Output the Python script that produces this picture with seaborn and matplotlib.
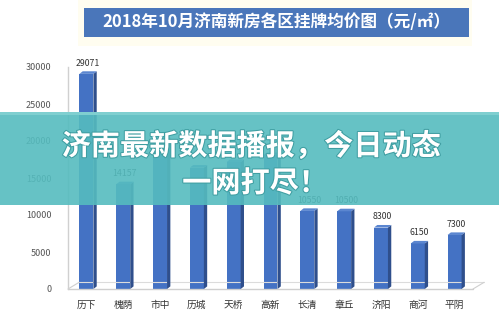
import matplotlib
matplotlib.use("Agg")
import matplotlib.pyplot as plt
import matplotlib.patheffects as pe
from matplotlib.patches import Rectangle, Polygon
import seaborn as sns
import pandas as pd

# 2018年10月 济南新房各区挂牌均价（元/㎡）
districts = ["历下", "槐荫", "市中", "历城", "天桥", "高新", "长清", "章丘", "济阳", "商河", "平阴"]
prices = [29071, 14157, 20100, 16400, 17163, 18100, 10550, 10500, 8300, 6150, 7300]
shown_labels = [True, True, False, False, False, False, True, True, True, True, True]
y_ticks = [0, 5000, 10000, 15000, 20000, 25000, 30000]

sns.set_theme(style="white")
plt.rcParams["font.family"] = ["Noto Sans CJK SC", "DejaVu Sans"]

W, H = 499, 323
fig = plt.figure(figsize=(W / 100, H / 100), dpi=100)
fig.patch.set_facecolor("white")

def fx(px):
    return px / W

def fy(py):
    return (H - py) / H

ax = fig.add_axes([fx(68), fy(289), fx(473) - fx(68), fy(67) - fy(289)])
df = pd.DataFrame({"district": districts, "price": prices})
sns.barplot(data=df, x="district", y="price", ax=ax, color="#4472c4",
            width=0.38, saturation=1, edgecolor="none")

ax.set_ylim(0, 30000)
ax.set_xlim(-0.5, len(districts) - 0.5)
ax.set_yticks(y_ticks)
ax.set_yticklabels([str(t) for t in y_ticks])
ax.set_xlabel("")
ax.set_ylabel("")
ax.tick_params(axis="y", labelsize=6.5, colors="#555555", length=0, pad=12)
ax.tick_params(axis="x", labelsize=7, colors="#333333", length=0, pad=8)
for side in ["top", "right", "bottom"]:
    ax.spines[side].set_visible(False)
ax.spines["left"].set_color("#d0d0d0")
ax.spines["left"].set_linewidth(1.0)

# depth faces for the bars
dx, dy = 0.09, 350
for patch, v, show in zip(ax.patches, prices, shown_labels):
    x0 = patch.get_x()
    x1 = x0 + patch.get_width()
    h = patch.get_height()
    side = Polygon([(x1, 0), (x1 + dx, dy), (x1 + dx, h + dy), (x1, h)],
                   closed=True, facecolor="#2f4f8c", edgecolor="none", zorder=3)
    top = Polygon([(x0, h), (x0 + dx, h + dy), (x1 + dx, h + dy), (x1, h)],
                  closed=True, facecolor="#5b86d0", edgecolor="none", zorder=3)
    ax.add_patch(side)
    ax.add_patch(top)
    if show:
        ax.text((x0 + x1) / 2 + dx / 2, h + dy + 500, str(v), ha="center", va="bottom",
                fontsize=6.3, color="#333333", zorder=4)

# floor of the chart
ax.plot([-0.5, len(districts) - 0.5], [0, 0], color="#cfcfcf", lw=1.0, clip_on=False, zorder=1)
ax.plot([-0.2, len(districts) - 0.2], [900, 900], color="#dcdcdc", lw=0.8, clip_on=False, zorder=1)
ax.plot([-0.5, -0.2], [0, 900], color="#cfcfcf", lw=0.8, clip_on=False, zorder=1)
ax.plot([len(districts) - 0.5, len(districts) - 0.2], [0, 900], color="#cfcfcf", lw=0.8,
        clip_on=False, zorder=1)

# title panel
fig.patches.append(Rectangle((fx(78), fy(46)), fx(472) - fx(78), fy(0) - fy(46),
                             transform=fig.transFigure, facecolor="#fffdf0",
                             edgecolor="none", zorder=0))
fig.patches.append(Rectangle((fx(84), fy(37)), fx(469) - fx(84), fy(8) - fy(37),
                             transform=fig.transFigure, facecolor="#4a76ba",
                             edgecolor="none", zorder=1))
fig.text(fx(276), fy(22.5), "2018年10月济南新房各区挂牌均价图（元/㎡）", ha="center",
         va="center", fontsize=12, fontweight="bold", color="white", zorder=2)

# headline banner
fig.patches.append(Rectangle((0, fy(205)), 1, fy(113) - fy(205),
                             transform=fig.transFigure, facecolor="#55bcbf",
                             alpha=0.9, edgecolor="none", zorder=5))
fig.patches.append(Rectangle((0, fy(115)), 1, fy(112) - fy(115),
                             transform=fig.transFigure, facecolor="#7fcfd0",
                             edgecolor="none", zorder=5))
stroke = [pe.withStroke(linewidth=1.5, foreground="#3f9ea2")]
fig.text(fx(251), fy(146), "济南最新数据播报，今日动态", ha="center", va="center",
         fontsize=21, fontweight="heavy", color="white", zorder=6, path_effects=stroke)
fig.text(fx(255), fy(183), "一网打尽！", ha="center", va="center",
         fontsize=21, fontweight="heavy", color="white", zorder=6, path_effects=stroke)

fig.savefig("out.png", dpi=100)
